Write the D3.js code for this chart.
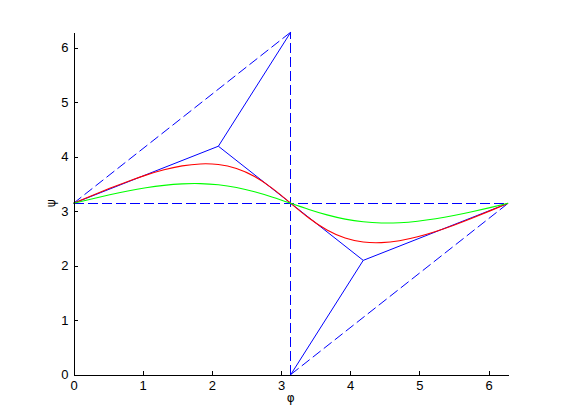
<!DOCTYPE html>
<html>
<head>
<meta charset="utf-8">
<script src="https://cdn.jsdelivr.net/npm/d3@7"></script>
<style>
  html, body { margin: 0; padding: 0; background: #fff; }
  svg { display: block; }
  .tick text { font-family: "Liberation Sans", Arial, sans-serif; font-size: 13px; fill: #000; }
</style>
</head>
<body>
<div id="chart"></div>
<script>
// ---- data ----
const phi = [0, 0.2618, 0.5236, 0.7854, 1.0472, 1.3090, 1.5708, 1.8326, 2.0944, 2.3562, 2.6180, 2.8798, 3.1416,
             3.4034, 3.6652, 3.9270, 4.1888, 4.4506, 4.7124, 4.9742, 5.2360, 5.4978, 5.7596, 6.0214, 6.2832];
const redPsi = [3.1416, 3.2805, 3.4158, 3.5435, 3.6587, 3.7559, 3.8276, 3.8639, 3.8525, 3.7794, 3.6323, 3.4114, 3.1416,
                2.8718, 2.6509, 2.5038, 2.4307, 2.4193, 2.4556, 2.5273, 2.6245, 2.7397, 2.8674, 3.0027, 3.1416];
const greenPsi = [3.1416, 3.2209, 3.2970, 3.3665, 3.4257, 3.4709, 3.4978, 3.5024, 3.4809, 3.4313, 3.3540, 3.2543, 3.1416,
                  3.0289, 2.9292, 2.8519, 2.8023, 2.7808, 2.7854, 2.8123, 2.8575, 2.9167, 2.9862, 3.0623, 3.1416];

const tangentUpper  = [[0, 3.1416], [2.0944, 4.1888], [3.1416, 6.2832]];
const tangentMiddle = [[2.0944, 4.1888], [3.1416, 3.1416], [4.1888, 2.0944], [6.2832, 3.1416]];
const tangentLower  = [[4.1888, 2.0944], [3.1416, 0]];

const dashHoriz     = [[0, 3.1416], [6.2832, 3.1416]];
const dashVert      = [[3.1416, 0], [3.1416, 6.2832]];
const dashDiagUpper = [[0, 3.1416], [3.1416, 6.2832]];
const dashDiagLower = [[3.1416, 0], [6.2832, 3.1416]];

const xTicks = [0, 1, 2, 3, 4, 5, 6];
const yTicks = [0, 1, 2, 3, 4, 5, 6];
const xDomain = [0, 6.2832];
const yDomain = [0, 6.2832];
const xLabel = "φ";
const yLabel = "ψ";

// ---- drawing ----
const W = 561, H = 420;
const svg = d3.select("#chart").append("svg").attr("width", W).attr("height", H);
svg.append("rect").attr("width", W).attr("height", H).attr("fill", "#fff");

const x = d3.scaleLinear().domain(xDomain).range([73.5, 508.1]);
const y = d3.scaleLinear().domain(yDomain).range([374.5, 32.1]);

const straight = d3.line().x(d => x(d[0])).y(d => y(d[1]));
const smooth = d3.line().x(d => x(d[0])).y(d => y(d[1])).curve(d3.curveNatural);

const plot = svg.append("g");

const axisAligned = [dashHoriz, dashVert];
plot.selectAll("path.dashA").data(axisAligned).enter().append("path")
  .attr("class", "dashA")
  .attr("d", straight)
  .attr("fill", "none")
  .attr("stroke", "#0000ff")
  .attr("stroke-width", 1)
  .attr("shape-rendering", "crispEdges")
  .attr("stroke-dasharray", "10,4");

const diag = [dashDiagUpper, dashDiagLower];
plot.selectAll("path.dashD").data(diag).enter().append("path")
  .attr("class", "dashD")
  .attr("d", straight)
  .attr("fill", "none")
  .attr("stroke", "#0000ff")
  .attr("stroke-width", 1)
  .attr("stroke-dasharray", "10,4");

const solid = [tangentUpper, tangentMiddle, tangentLower];
plot.selectAll("path.tan").data(solid).enter().append("path")
  .attr("class", "tan")
  .attr("d", straight)
  .attr("fill", "none")
  .attr("stroke", "#0000ff")
  .attr("stroke-width", 1);

plot.append("path")
  .attr("d", smooth(phi.map((p, i) => [p, redPsi[i]])))
  .attr("fill", "none").attr("stroke", "#ff0000").attr("stroke-width", 1.1);

plot.append("path")
  .attr("d", smooth(phi.map((p, i) => [p, greenPsi[i]])))
  .attr("fill", "none").attr("stroke", "#00ff00").attr("stroke-width", 1.1);

// axes
const xAxis = d3.axisBottom(x).tickValues(xTicks).tickFormat(d3.format("d"))
  .tickSizeInner(-4).tickSizeOuter(0).tickPadding(6);
const yAxis = d3.axisLeft(y).tickValues(yTicks).tickFormat(d3.format("d"))
  .tickSizeInner(-4).tickSizeOuter(0).tickPadding(5);

const gx = svg.append("g").attr("transform", "translate(0,374.5)").call(xAxis);
const gy = svg.append("g").attr("transform", "translate(73.5,0)").call(yAxis);
[gx, gy].forEach(g => {
  g.select(".domain").attr("stroke", "#000").attr("stroke-width", 1).attr("shape-rendering", "crispEdges");
  g.selectAll(".tick line").attr("stroke", "#000").attr("shape-rendering", "crispEdges");
});

svg.append("text")
  .attr("x", 290.8).attr("y", 402)
  .attr("text-anchor", "middle")
  .attr("font-family", "'DejaVu Sans', sans-serif").attr("font-size", 12)
  .text(xLabel);

svg.append("text")
  .attr("transform", "translate(55,203.3) rotate(-90)")
  .attr("text-anchor", "middle")
  .attr("font-family", "'DejaVu Sans', sans-serif").attr("font-size", 12)
  .text(yLabel);
</script>
</body>
</html>
